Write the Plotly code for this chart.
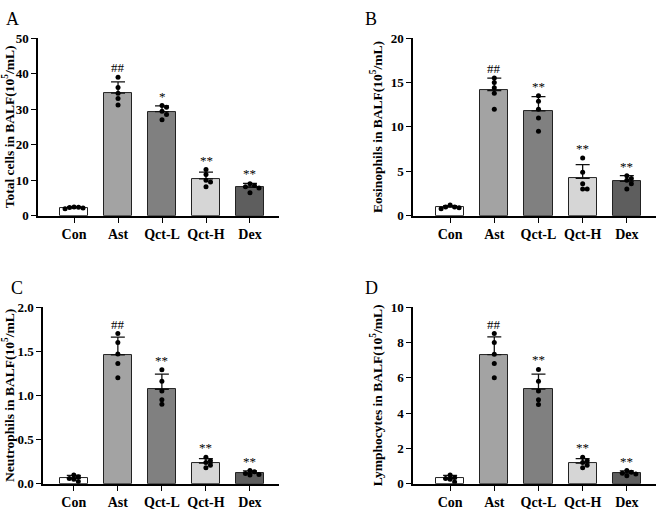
import plotly.graph_objects as go

groups = ["Con", "Ast", "Qct-L", "Qct-H", "Dex"]
colors = ["#ffffff", "#a3a3a3", "#808080", "#d6d6d6", "#5e5e5e"]
sig = ["", "##", "*", "**", "**"]
sig_b = ["", "##", "**", "**", "**"]

# Panel A: total cells
a_mean = [2.3, 34.5, 29.3, 10.4, 8.0]
a_sd = [0.3, 3.2, 1.6, 1.9, 1.1]
a_pts = [[2.0, 2.3, 2.5, 2.2, 2.4], [39.0, 36.1, 34.5, 33.0, 31.2],
         [31.0, 30.5, 29.4, 28.5, 27.0], [13.0, 11.6, 10.0, 9.5, 8.2],
         [9.0, 8.5, 8.2, 7.8, 6.5]]
# Panel B: eosinophils
b_mean = [0.98, 14.1, 11.8, 4.2, 3.86]
b_sd = [0.17, 1.4, 1.6, 1.55, 0.65]
b_pts = [[1.2, 1.0, 0.9, 1.0, 0.8], [15.5, 15.0, 14.4, 13.8, 12.0],
         [13.5, 12.9, 12.0, 11.0, 9.5], [6.5, 4.9, 3.6, 3.0, 3.0],
         [4.5, 4.2, 4.0, 3.6, 3.0]]
# Panel C: neutrophils
c_mean = [0.06, 1.46, 1.07, 0.235, 0.12]
c_sd = [0.035, 0.2, 0.17, 0.05, 0.026]
c_pts = [[0.1, 0.08, 0.06, 0.05, 0.025], [1.70, 1.60, 1.47, 1.36, 1.20],
         [1.29, 1.16, 1.05, 0.95, 0.90], [0.30, 0.26, 0.24, 0.21, 0.18],
         [0.15, 0.135, 0.117, 0.106, 0.10]]
# Panel D: lymphocytes
d_mean = [0.3, 7.31, 5.36, 1.17, 0.6]
d_sd = [0.17, 1.0, 0.85, 0.25, 0.13]
d_pts = [[0.5, 0.35, 0.3, 0.25, 0.1], [8.5, 8.0, 7.33, 6.8, 6.0],
         [6.47, 5.8, 5.25, 4.75, 4.48], [1.5, 1.3, 1.2, 1.05, 0.9],
         [0.75, 0.65, 0.6, 0.55, 0.45]]

ytitles = ["Total cells in BALF(10<sup>5</sup>/mL)",
           "Eosinophils in BALF(10<sup>5</sup>/mL)",
           "Neutrophils in BALF(10<sup>5</sup>/mL)",
           "Lymphocytes in BALF(10<sup>5</sup>/mL)"]
letters = ["A", "B", "C", "D"]
ymax = [50, 20, 2.0, 10]
ydtick = [10, 5, 0.5, 2]
ytickfmt = ["d", "d", ".1f", "d"]

W, H = 659, 518
# plot boxes in pixels: (left, right, top, bottom)
boxes = [(38, 279, 32, 215), (413, 656, 32, 215),
         (43, 279, 309, 491), (413, 656, 309, 491)]
xranges = [(-0.82, 4.66), (-0.84, 4.66), (-0.70, 4.66), (-0.84, 4.66)]

panels = [(a_mean, a_sd, a_pts, sig), (b_mean, b_sd, b_pts, sig_b),
          (c_mean, c_sd, c_pts, sig_b), (d_mean, d_sd, d_pts, sig_b)]

serif = "Liberation Serif"
fig = go.Figure()
layout = {}
annotations = []

for i, (means, sds, pts, sg) in enumerate(panels):
    k = "" if i == 0 else str(i + 1)
    xa, ya = "x" + k, "y" + k
    L, R, T, B = boxes[i]
    xr = xranges[i]
    px_per_x = (R - L) / (xr[1] - xr[0])
    px_per_y = (B - T) / ymax[i]
    xs = list(range(len(groups)))
    fig.add_trace(go.Bar(
        x=xs, y=means, width=0.64, xaxis=xa, yaxis=ya,
        marker=dict(color=colors, line=dict(color="#222222", width=1)),
        error_y=dict(type="data", symmetric=False, array=sds,
                     arrayminus=[0] * len(sds), color="#111111",
                     thickness=1.3, width=7),
        showlegend=False, hoverinfo="skip"))
    # dots with simple collision-avoiding offsets
    dx, dy = [], []
    dsize = 5
    for gi, vals in enumerate(pts):
        placed = []
        for v in sorted(vals, reverse=True):
            for off in [0, 1, -1, 2, -2]:
                ox = off * dsize * 0.9
                ok = all(((ox - p[0]) ** 2 + ((v - p[1]) * px_per_y) ** 2) >= dsize ** 2 * 0.8
                         for p in placed)
                if ok:
                    break
            placed.append((ox, v))
            dx.append(gi + ox / px_per_x)
            dy.append(v)
    fig.add_trace(go.Scatter(
        x=dx, y=dy, mode="markers", xaxis=xa, yaxis=ya,
        marker=dict(color="black", size=dsize), showlegend=False, hoverinfo="skip"))
    # significance marks
    for gi in range(len(groups)):
        if sg[gi]:
            top = max(means[gi] + sds[gi], max(pts[gi]))
            annotations.append(dict(
                x=gi, y=top, xref=xa, yref=ya, text=sg[gi], showarrow=False,
                yanchor="bottom", yshift=0,
                font=dict(family=serif, size=13, color="black")))
    annotations.append(dict(
        x=(L - 34 if i in (0, 2) else L - 50) / W, y=1 - (T - 20) / H,
        xref="paper", yref="paper", text=letters[i], showarrow=False,
        xanchor="left", yanchor="middle",
        font=dict(family=serif, size=18, color="black")))
    axis_font = dict(family=serif, size=13, color="black", weight="bold")
    layout["xaxis" + k] = dict(
        domain=[L / W, R / W], range=list(xr), anchor=ya,
        tickvals=xs, ticktext=groups, showline=True, linecolor="black",
        linewidth=1.5, ticks="outside", ticklen=5, tickwidth=1.3,
        tickcolor="black", tickfont=dict(family=serif, size=14, color="black", weight="bold"),
        showgrid=False, zeroline=False, fixedrange=True)
    layout["yaxis" + k] = dict(
        domain=[1 - B / H, 1 - T / H], range=[0, ymax[i]], anchor=xa,
        dtick=ydtick[i], tickformat=ytickfmt[i], showline=True,
        linecolor="black", linewidth=1.5, ticks="outside", ticklen=5,
        tickwidth=1.3, tickcolor="black", tickfont=axis_font,
        title=dict(text=ytitles[i], font=dict(family=serif, size=13.5, color="black", weight="bold"),
                   standoff=5),
        showgrid=False, zeroline=False, fixedrange=True)

fig.update_layout(
    width=W, height=H, margin=dict(l=0, r=0, t=0, b=0),
    paper_bgcolor="white", plot_bgcolor="white",
    annotations=annotations, bargap=0, **layout)

fig.write_html("out.html")
